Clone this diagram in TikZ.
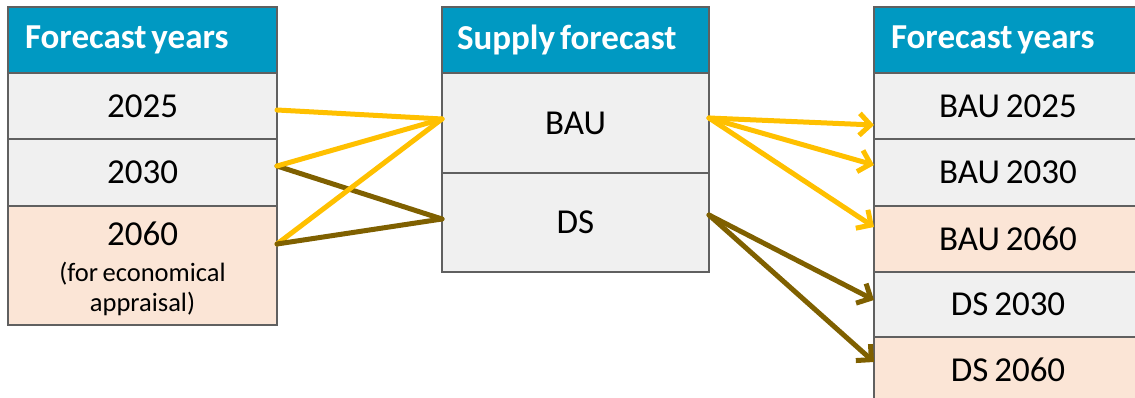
\documentclass[tikz,border=0pt]{standalone}
\usepackage{fontspec}
\setmainfont[WordSpace=0.75]{Carlito}
\usetikzlibrary{arrows.meta}
\definecolor{headblue}{HTML}{0099C2}
\definecolor{cellgray}{HTML}{F0F0F0}
\definecolor{cellpeach}{HTML}{FBE5D6}
\definecolor{rulegray}{HTML}{606060}
\definecolor{bauyellow}{HTML}{FFC000}
\definecolor{dsbrown}{HTML}{7F6000}
\tikzset{
  cell/.style={draw=rulegray, line width=1.3pt, inner sep=0pt, outer sep=0pt,
    font=\fontsize{35}{40}\selectfont, text=black},
  head/.style={cell, fill=headblue, text=white, align=left,
    font=\fontsize{35}{40}\selectfont\bfseries,
    execute at begin node={\spaceskip=0.14em\relax}},
  graycell/.style={cell, fill=cellgray},
  peachcell/.style={cell, fill=cellpeach},
  link/.style={line width=5pt, line cap=round, line join=round},
  bau/.style={link, draw=bauyellow},
  ds/.style={link, draw=dsbrown},
  tip/.style={-{Straight Barb[length=11pt, width=22pt, line width=5pt]}},
}
\begin{document}
\begin{tikzpicture}[x=1pt, y=-1pt]
\useasboundingbox (0,0) rectangle (1135,398);
\begin{scope}
\clip (0,0) rectangle (1135,398);

% left table: forecast years
\node[head, minimum width=269pt, minimum height=66pt, text width=235pt] (lh) at (142.5,40) {Forecast years};
\node[graycell, minimum width=269pt, minimum height=66pt] (l2025) at (142.5,106) {2025};
\node[graycell, minimum width=269pt, minimum height=67pt] (l2030) at (142.5,172.5) {2030};
\node[peachcell, minimum width=269pt, minimum height=119pt] (l2060) at (142.5,265.5) {};
\node[align=center, font=\fontsize{35}{40}\selectfont] (l2060t) at (142.5,234) {2060};
\node[align=center, font=\fontsize{26.5}{30}\selectfont] (l2060n) at (142.5,289) {(for economical\\appraisal)};

% middle table: supply forecast
\node[head, minimum width=267pt, minimum height=66pt, text width=237pt] (mh) at (575.5,40) {Supply forecast};
\node[graycell, minimum width=267pt, minimum height=100pt] (mbau) at (575.5,123) {BAU};
\node[graycell, minimum width=267pt, minimum height=99pt] (mds) at (575.5,222.5) {DS};

% right table: forecast years per scenario
\node[head, minimum width=268pt, minimum height=66pt, text width=234pt] (rh) at (1008,40) {Forecast years};
\node[graycell, minimum width=268pt, minimum height=66pt] (r1) at (1008,106) {BAU 2025};
\node[graycell, minimum width=268pt, minimum height=67pt] (r2) at (1008,172.5) {BAU 2030};
\node[peachcell, minimum width=268pt, minimum height=66pt] (r3) at (1008,239) {BAU 2060};
\node[graycell, minimum width=268pt, minimum height=65pt] (r4) at (1008,304.5) {DS 2030};
\node[peachcell, minimum width=268pt, minimum height=66pt] (r5) at (1008,370) {DS 2060};

% years feeding the scenarios
\draw[bau] ([yshift=-4pt]l2025.east) -- ([yshift=4pt]mbau.west);
\draw[ds]  ([yshift=6.5pt]l2030.east) -- ([yshift=3.5pt]mds.west);
\draw[bau] ([yshift=21.5pt]l2060.east) -- ([yshift=4pt]mbau.west);
\draw[ds]  ([yshift=21.5pt]l2060.east) -- ([yshift=3.5pt]mds.west);
\draw[bau] ([yshift=6.5pt]l2030.east) -- ([yshift=4pt]mbau.west);

% scenarios producing the forecast years
\draw[bau, tip] ([yshift=5pt]mbau.east) -- ([yshift=-19pt]r1.west);
\draw[bau, tip] ([yshift=5pt]mbau.east) -- ([yshift=7.5pt]r2.west);
\draw[bau, tip] ([yshift=5pt]mbau.east) -- ([yshift=12pt]r3.west);
\draw[ds, tip]  ([yshift=7.5pt]mds.east) -- ([yshift=4.5pt]r4.west);
\draw[ds, tip]  ([yshift=7.5pt]mds.east) -- ([yshift=8pt]r5.west);
\end{scope}
\end{tikzpicture}
\end{document}
